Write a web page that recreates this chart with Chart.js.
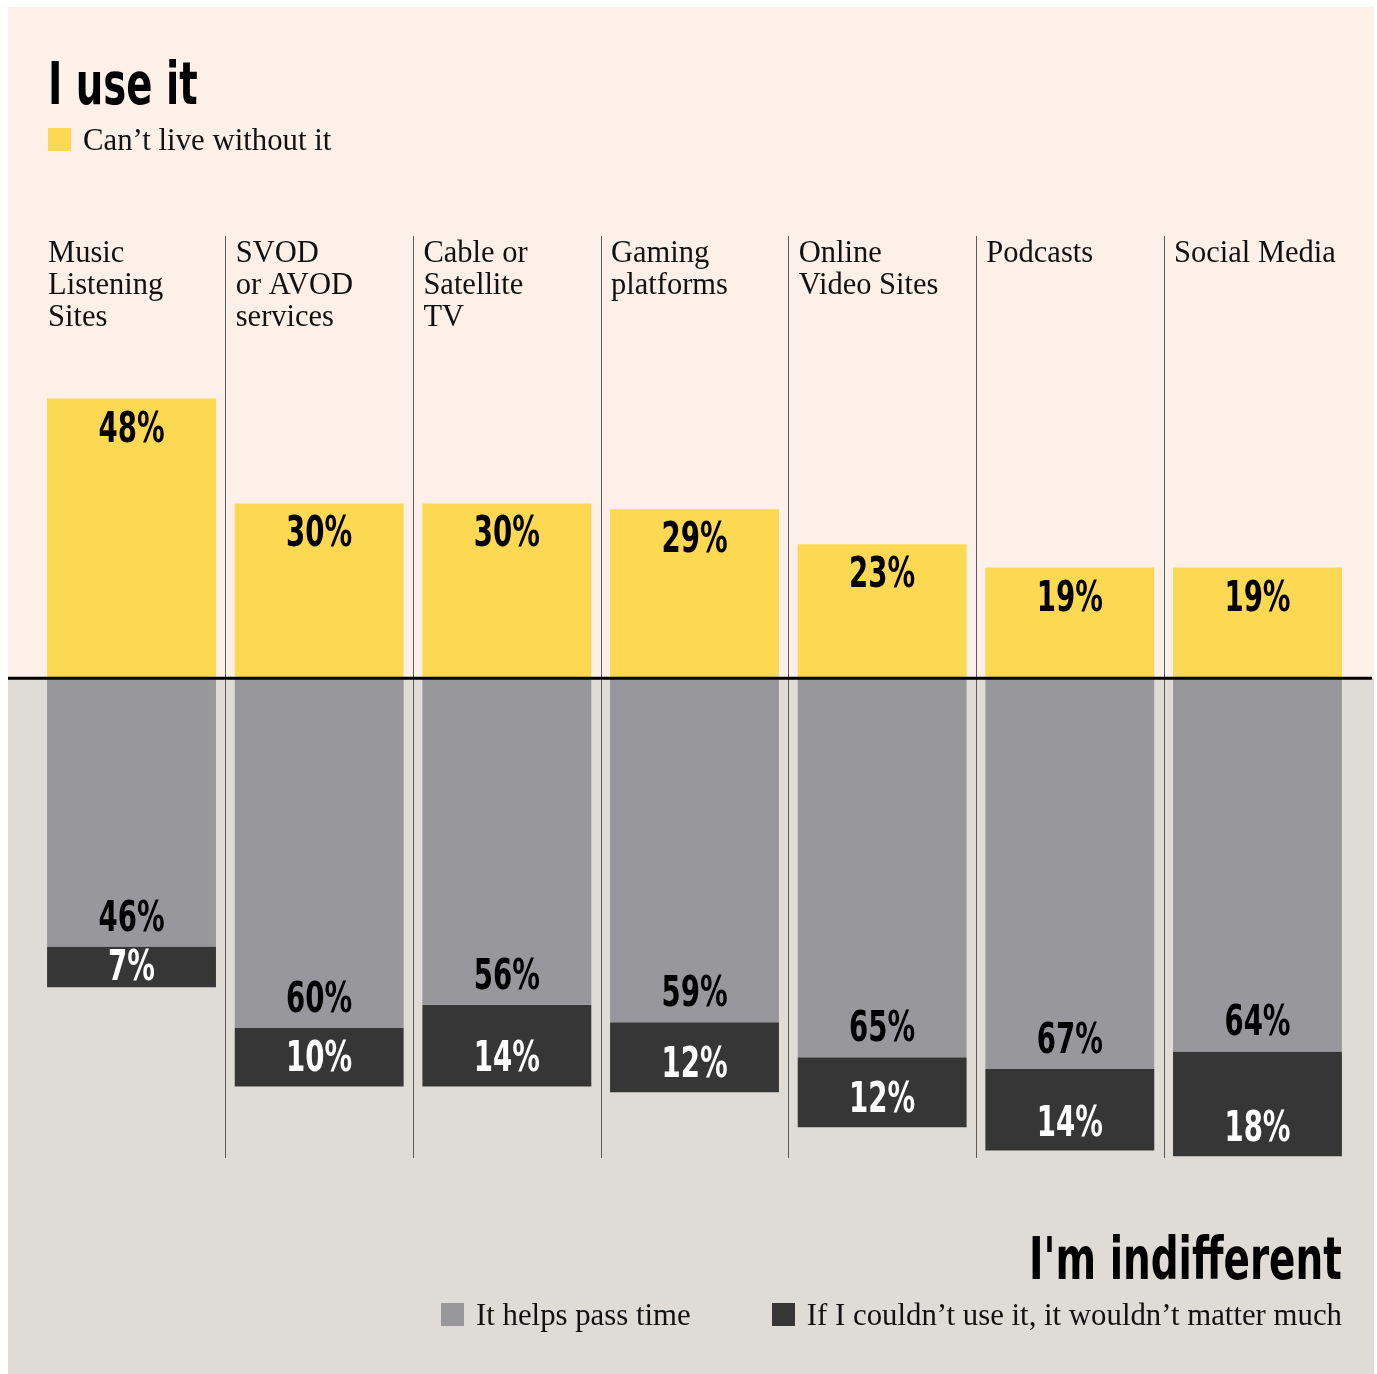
<!DOCTYPE html>
<html>
<head>
<meta charset="utf-8">
<script src="https://cdn.jsdelivr.net/npm/chart.js@4.4.1/dist/chart.umd.min.js"></script>
<style>
  html, body { margin: 0; padding: 0; background: #ffffff; }
  #wrap { position: relative; width: 1377px; height: 1374px; }
  #chart { position: absolute; left: 0; top: 0; }
  .cond { font-family: "DejaVu Sans", sans-serif; font-weight: bold; color: #000; white-space: nowrap;
          font-size: 59px; line-height: 60px; }
  .serif { font-family: "Liberation Serif", "DejaVu Serif", serif; color: #111; font-size: 30.8px; line-height: 30px; white-space: nowrap; }
  .abs { position: absolute; }
  .sq { position: absolute; width: 23px; height: 23px; }
</style>
</head>
<body>
<div id="wrap">
  <canvas id="chart" width="1377" height="1374"></canvas>

  <div class="abs cond" style="left:48px; top:54px; transform:scaleX(0.655); transform-origin:left top;">I use it</div>
  <div class="sq" style="left:48px; top:128px; background:#fdd853;"></div>
  <div class="abs serif" style="left:83px; top:125px;">Can’t live without it</div>

  <div class="abs cond" style="right:35px; top:1229px; transform:scaleX(0.66); transform-origin:right top;">I'm indifferent</div>
  <div class="sq" style="left:441px; top:1303px; background:#98979b;"></div>
  <div class="abs serif" style="left:476px; top:1300px;">It helps pass time</div>
  <div class="sq" style="left:772px; top:1303px; background:#363636;"></div>
  <div class="abs serif" style="right:35px; top:1300px;">If I couldn’t use it, it wouldn’t matter much</div>
</div>

<script>
// categories (multi-line labels)
const categories = [
  ['Music', 'Listening', 'Sites'],
  ['SVOD', 'or AVOD', 'services'],
  ['Cable or', 'Satellite', 'TV'],
  ['Gaming', 'platforms'],
  ['Online', 'Video Sites'],
  ['Podcasts'],
  ['Social Media']
];

// shares in %
const cantLive = [48, 30, 30, 29, 23, 19, 19];
const passTime = [46, 60, 56, 59, 65, 67, 64];
const wouldntMatter = [7, 10, 14, 12, 12, 14, 18];

const YELLOW = '#fdd853';
const GREY = '#98979b';
const DARK = '#363636';
const PINK_BG = '#fdf0e8';
const GREY_BG = '#dfdcd8';

const labelFont = 'bold 42.5px "DejaVu Sans", sans-serif';
const catFont = '30.5px "Liberation Serif", "DejaVu Serif", serif';

// condensed look: squeeze the text horizontally around its anchor
function narrowText(ctx, t, x, y, sx) {
  ctx.save();
  ctx.translate(x, y);
  ctx.scale(sx, 1);
  ctx.fillText(t, 0, 0);
  ctx.restore();
}

// backgrounds, baseline, separators, text on bars
const decor = {
  id: 'decor',
  beforeDraw(chart) {
    const { ctx } = chart;
    const zero = chart.scales.y.getPixelForValue(0);
    ctx.save();
    ctx.fillStyle = PINK_BG;
    ctx.fillRect(8, 7, 1366, zero - 7);
    ctx.fillStyle = GREY_BG;
    ctx.fillRect(8, zero, 1366, 1374 - zero);
    ctx.restore();
  },
  afterDatasetsDraw(chart) {
    const { ctx, chartArea } = chart;
    const x = chart.scales.x;
    const y = chart.scales.y;
    const zero = y.getPixelForValue(0);
    ctx.save();

    // separators between columns
    ctx.strokeStyle = '#5a5a5a';
    ctx.lineWidth = 1;
    for (let i = 1; i < categories.length; i++) {
      const px = Math.round((x.getPixelForValue(i - 1) + x.getPixelForValue(i)) / 2) + 0.5;
      ctx.beginPath();
      ctx.moveTo(px, chartArea.top);
      ctx.lineTo(px, chartArea.bottom);
      ctx.stroke();
    }

    // zero line
    ctx.strokeStyle = '#000';
    ctx.lineWidth = 3;
    ctx.beginPath();
    ctx.moveTo(8, zero);
    ctx.lineTo(1372, zero);
    ctx.stroke();

    // category labels
    const m0 = chart.getDatasetMeta(0);
    ctx.font = catFont;
    ctx.fillStyle = '#111';
    ctx.textAlign = 'left';
    ctx.textBaseline = 'alphabetic';
    categories.forEach((lines, i) => {
      const bar = m0.data[i];
      const left = bar.x - bar.width / 2 + 1;
      lines.forEach((t, j) => ctx.fillText(t, left, 262 + j * 32));
    });

    // value labels
    ctx.font = labelFont;
    ctx.textAlign = 'center';
    ctx.textBaseline = 'middle';
    chart.data.datasets.forEach((ds, di) => {
      const meta = chart.getDatasetMeta(di);
      meta.data.forEach((bar, i) => {
        const v = Math.abs(ds.data[i]);
        let ty;
        if (di === 0) ty = bar.y + 30;
        else if (di === 1) ty = bar.y - 29;
        else ty = Math.max(bar.y - 28, (bar.y + bar.base) / 2);
        ctx.fillStyle = di === 2 ? '#fff' : '#000';
        narrowText(ctx, v + '%', bar.x, ty + 2, 0.65);
      });
    });
    ctx.restore();
  }
};

new Chart(document.getElementById('chart'), {
  type: 'bar',
  data: {
    labels: categories.map(c => c.join(' ')),
    datasets: [
      { label: 'Can’t live without it', data: cantLive, backgroundColor: YELLOW },
      { label: 'It helps pass time', data: passTime.map(v => -v), backgroundColor: GREY },
      { label: 'If I couldn’t use it, it wouldn’t matter much', data: wouldntMatter.map(v => -v), backgroundColor: DARK }
    ]
  },
  options: {
    responsive: false,
    animation: false,
    devicePixelRatio: 1,
    layout: { padding: { left: 37.7, right: 25.7, top: 236, bottom: 216 } },
    datasets: { bar: { barPercentage: 0.9, categoryPercentage: 1.0, borderWidth: 0 } },
    plugins: { legend: { display: false }, tooltip: { enabled: false } },
    scales: {
      x: { stacked: true, display: false },
      y: { stacked: true, display: false, min: -82.28, max: 75.87 }
    }
  },
  plugins: [decor]
});
</script>
</body>
</html>
